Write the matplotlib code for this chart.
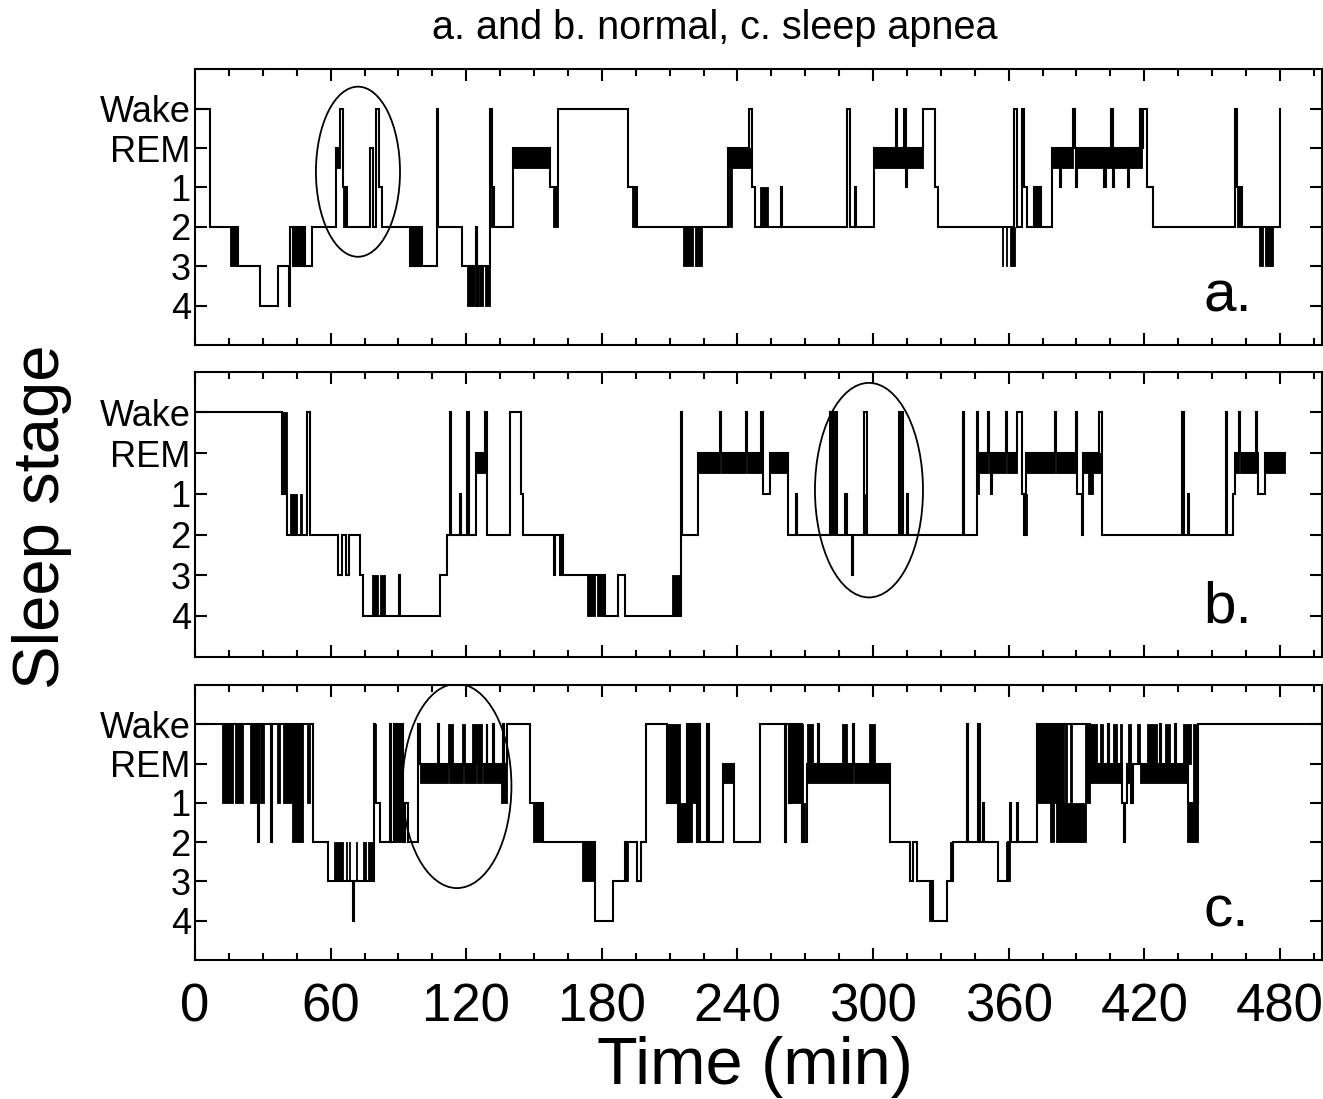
import matplotlib
matplotlib.use("Agg")
import matplotlib.pyplot as plt
from matplotlib.patches import Ellipse
from matplotlib.ticker import MultipleLocator

plt.rcParams['font.family'] = ['Liberation Sans', 'DejaVu Sans']

# stage codes -> plotting level ('r' = lower edge of the REM band)
level = {'W': 5, 'R': 4, 'r': 3.5, '1': 3, '2': 2, '3': 1, '4': 0}
stage_names = ['4', '3', '2', '1', 'REM', 'Wake']

# ---- a. normal ----
a_t = [0, 6.6, 19.2, 28.8, 36.9, 41.7, 42.2, 43.4, 44.0, 44.8, 45.3, 46.2, 46.8, 47.6, 48.2, 48.8, 51.6,
       62.2, 64.0, 65.3, 67.1, 77.4, 78.6, 80.1, 81.6, 82.6,
       95.1, 95.8, 96.4, 97.2, 97.8, 98.6, 99.2, 99.9, 100.6, 107.0, 107.7, 118.0, 124.2, 124.7, 125.3,
       130.5, 131.3, 132.3, 140.9, 157.1, 160.8, 191.7, 195.4, 236.0, 245.3, 246.5, 247.6, 259.4, 259.9,
       288.3, 289.6, 291.9, 292.5, 300.4, 310.2, 310.8, 313.8, 314.4, 315.0, 322.2, 327.4, 328.9,
       362.3, 363.6, 365.8, 367.0, 368.2, 371.1, 371.6, 372.6, 373.1, 374.0, 374.5, 379.0, 382.6, 383.2,
       388.6, 389.3, 389.8, 390.4, 402.4, 403.0, 405.4, 406.1, 406.6, 412.7, 413.3, 418.1, 419.0, 419.6, 421.4, 424.0,
       460.1, 460.9, 463.1, 480.0]
a_s = ['W', '2', '3', '4', '3', '4', '2', '3', '2', '3', '2', '3', '2', '3', '2', '3', '2',
       'R', 'W', '1', '2', 'R', '2', 'W', '1', '2',
       '3', '2', '3', '2', '3', '2', '3', '2', '3', 'W', '2', '3', '2', '4', '3',
       'W', '1', '2', 'R', '1', 'W', '1', '2', 'R', 'W', '1', '2', '1', '2',
       'W', '2', '1', '2', 'R', 'W', 'R', 'W', '1', 'R', 'W', '1', '2',
       'W', '2', 'W', '1', '2', '1', '2', '1', '2', '1', '2', 'R', '1', 'R',
       'W', 'R', '1', 'R', '1', 'R', 'W', '1', 'R', '1', 'R', 'W', 'R', 'W', '1', '2',
       'W', '1', '2', 'W']
a_rem = [(62.2, 64.0), (140.9, 157.1), (236.0, 246.3), (300.4, 322.2), (379.0, 388.6), (389.3, 418.8)]
a_dense = [(15.5, 19.2, '3', '2'), (65.3, 67.1, '2', '1'), (120.2, 123.9, '4', '3'), (125.5, 127.3, '4', '3'),
           (128.3, 130.5, '4', '3'), (131.0, 132.3, '2', '1'), (158.6, 160.8, '2', '1'), (193.2, 195.4, '2', '1'),
           (216.0, 220.4, '3', '2'), (221.2, 224.2, '3', '2'), (236.3, 237.8, '2', 'r'), (250.0, 253.7, '2', '1'),
           (357.0, 357.6, '3', '2'), (358.8, 359.4, '3', '2'), (360.4, 362.8, '3', '2'), (460.9, 463.1, '2', '1'),
           (470.9, 472.4, '3', '2'), (473.4, 477.1, '3', '2')]

# ---- b. normal ----
b_t = [0, 38.4, 40.9, 49.4, 50.9, 63.4, 64.9, 66.8, 68.3, 73.0, 74.5, 90.2, 90.7, 108.4, 111.4,
       112.8, 113.4, 117.1, 117.6, 120.4, 121.2, 124.2, 128.1, 129.1, 139.4, 144.3, 145.3,
       158.8, 159.4, 161.7, 162.3, 163.0, 181.4, 187.3, 190.2, 215.0, 215.6, 222.7,
       232.4, 232.9, 243.6, 244.1, 250.5, 251.2, 254.4, 262.5, 266.0, 266.5, 281.0, 283.9,
       287.8, 288.4, 290.8, 291.3, 296.0, 297.2, 311.6, 312.1, 312.8, 313.3, 315.0, 315.6, 339.6, 340.2,
       346.1, 346.6, 350.9, 351.4, 352.3, 352.8, 358.9, 359.4, 363.5, 365.7, 366.6, 367.7,
       380.3, 380.8, 389.6, 390.1, 392.5, 393.0, 400.1, 401.1, 436.5, 437.4, 439.3, 439.8, 456.1, 456.7,
       459.4, 460.1, 462.0, 462.5, 469.5, 470.0, 470.5, 473.4, 482.3]
b_s = ['W', '1', '2', 'W', '2', '3', '2', '3', '2', '3', '4', '3', '4', '3', '2',
       'W', '2', '1', '2', 'W', '2', 'R', 'W', '2', 'W', '1', '2',
       '3', '2', '3', '2', '3', '4', '3', '4', 'W', '2', 'R',
       'W', 'R', 'W', 'R', 'W', '1', 'R', '2', '1', '2', 'W', '2',
       '1', '2', '3', '2', 'W', '2', 'W', '2', 'W', '2', '1', '2', 'W', '2',
       'W', 'R', 'W', 'R', '1', 'R', 'W', 'R', 'W', '1', '2', 'R',
       'W', 'R', 'W', '1', '2', 'R', 'W', '2', 'W', '2', '1', '2', 'W', '2',
       '1', 'R', 'W', 'R', 'W', 'R', '1', 'R', 'R']
b_rem = [(124.2, 129.1), (222.7, 232.4), (232.9, 243.6), (244.1, 251.2), (254.4, 262.5),
         (346.6, 350.9), (351.4, 358.9), (359.4, 363.5), (367.7, 380.3), (380.8, 390.1),
         (393.0, 401.1), (460.1, 462.0), (462.5, 470.5), (473.4, 482.3)]
b_dense = [(38.4, 40.9, '1', 'W'), (42.0, 45.3, '2', '1'), (46.5, 47.3, '2', '1'), (78.2, 81.1, '4', '3'),
           (81.9, 84.1, '4', '3'), (173.3, 177.0, '4', '3'), (177.7, 181.4, '4', '3'), (210.9, 214.6, '4', '3'),
           (281.0, 283.9, '2', 'W'), (296.3, 297.5, '2', '1'), (346.1, 346.9, '1', 'R'), (366.5, 368.2, '2', '1'),
           (395.2, 397.5, '1', 'r')]

# ---- c. sleep apnea ----
c_t = [0, 27.8, 28.2, 33.7, 34.1, 52.4, 59.0, 69.9, 70.3, 79.2, 79.8, 81.8,
       86.3, 86.8, 88.2, 92.2, 93.0, 94.3, 98.8, 99.6, 107.5, 108.0, 129.0, 129.4, 131.9, 132.3, 136.3, 136.7,
       137.9, 148.2, 154.1, 177.0, 184.8, 190.2, 195.4, 197.2, 199.5, 209.0, 213.8, 217.5, 222.0, 222.7, 223.6,
       226.5, 227.4,
       233.7, 238.5, 250.0, 261.0, 261.6, 263.0, 263.6, 268.6, 270.6, 275.5, 276.0, 291.1, 291.6, 307.5,
       316.3, 317.8, 319.3, 326.7, 332.6, 335.5, 341.4, 342.1, 346.6, 347.3, 348.6, 349.1, 355.4, 359.8,
       360.7, 361.2, 363.6, 364.1, 372.7, 396.0, 404.0, 404.4, 410.3, 411.0, 411.6, 412.2, 414.2, 414.8,
       427.1, 427.5, 433.5, 433.9, 439.5, 443.9, 500]
c_s = ['W', '2', 'W', '2', 'W', '2', '3', '4', '3', 'W', '1', '2',
       'W', '2', 'W', '2', '1', '2', 'W', 'R', 'W', 'R', 'W', 'R', 'W', 'R', 'W', 'R',
       'W', '1', '2', '4', '3', '2', '3', '2', 'W', '1', '2', 'W', '2', 'W', '2',
       'W', '2',
       'R', '2', 'W', '2', 'W', '1', 'W', '2', 'R', 'W', 'R', 'W', 'R', '2',
       '3', '2', '3', '4', '3', '2', 'W', '2', 'W', '2', '1', '2', '3', '2',
       '1', '2', '1', '2', 'W', 'R', 'W', 'R', '1', '2', '1', 'R', '1', 'R',
       'W', 'R', 'W', 'R', '1', 'W', 'W']
c_rem = [(99.6, 112.0), (112.3, 118.4), (118.8, 124.4), (124.8, 127.1), (127.5, 137.9), (233.7, 238.5),
         (270.6, 287.0), (287.3, 291.1), (291.6, 307.5), (396.0, 410.0), (412.2, 414.2), (418.0, 439.5)]
c_dense = [(11.8, 17.0, '1', 'W'), (17.7, 21.1, '1', 'W'), (24.3, 27.3, '1', 'W'), (28.8, 30.5, '1', 'W'),
           (36.1, 37.6, '1', 'W'), (39.1, 48.0, '1', 'W'), (42.8, 48.0, '2', '1'), (49.4, 50.9, '1', 'W'),
           (61.5, 65.6, '3', '2'), (66.9, 67.3, '3', '2'), (68.1, 68.5, '3', '2'), (71.3, 71.7, '3', '2'),
           (74.5, 75.7, '3', '2'), (76.7, 79.2, '3', '2'), (79.2, 80.0, '1', 'W'),
           (88.2, 92.2, '2', 'W'), (112.1, 114.3, 'R', 'W'), (118.0, 119.5, 'R', 'W'), (122.4, 126.8, 'R', 'W'),
           (135.5, 137.9, '1', 'r'), (149.7, 154.1, '2', '1'),
           (171.1, 177.0, '3', '2'), (190.0, 191.6, '3', '2'), (209.0, 214.6, '1', 'W'), (213.8, 219.7, '2', '1'),
           (217.5, 222.0, '1', 'W'),
           (263.6, 269.1, '1', 'W'), (268.5, 270.0, '2', '1'), (270.6, 273.4, 'R', 'W'), (286.1, 288.3, 'R', 'W'),
           (298.3, 300.9, 'R', 'W'),
           (324.8, 326.5, '4', '3'), (334.0, 335.5, '3', '2'), (359.0, 360.5, '3', '2'),
           (372.7, 384.3, '1', 'W'), (385.0, 385.8, '1', 'W'), (387.3, 388.2, '1', 'W'), (393.7, 396.0, '1', 'W'),
           (378.4, 380.0, '2', '1'), (380.8, 394.2, '2', '1'),
           (396.0, 399.0, 'R', 'W'), (400.4, 401.9, 'R', 'W'), (406.3, 407.8, 'R', 'W'), (409.3, 410.3, 'R', 'W'),
           (412.9, 414.0, 'R', 'W'), (416.6, 418.1, 'R', 'W'), (421.0, 425.5, 'R', 'W'), (429.2, 431.4, 'R', 'W'),
           (437.3, 440.9, 'R', 'W'), (441.5, 443.9, '1', 'W'), (438.8, 443.9, '2', '1')]

# circled regions: (centre time, centre level, width in min, height in levels)
circles = [(72.1, 3.40, 37.2, 4.32), (298.2, 3.09, 47.8, 5.27), (115.9, 3.43, 48.2, 5.2)]
tags = ['a.', 'b.', 'c.']

fig = plt.figure(figsize=(13.23, 10.99), dpi=100)
boxes = [[0.1474, 0.6861, 0.8516, 0.2508],
         [0.1474, 0.4025, 0.8516, 0.2593],
         [0.1474, 0.1265, 0.8516, 0.2502]]
panels = [(a_t, a_s, a_rem, a_dense), (b_t, b_s, b_rem, b_dense), (c_t, c_s, c_rem, c_dense)]

for i, (t, s, rem, dense) in enumerate(panels):
    ax = fig.add_axes(boxes[i])
    y = [level[k] for k in s]
    ax.step(t, y, where='post', color='black', lw=1.5, solid_joinstyle='miter')
    # REM epochs drawn as a solid band
    for t0, t1 in rem:
        ax.fill_between([t0, t1], level['r'], level['R'], color='black', lw=0.6)
    # stretches of fast switching between two stages
    for t0, t1, lo, hi in dense:
        ax.fill_between([t0, t1], level[lo], level[hi], color='black', lw=0.6)

    cx, cy, w, h = circles[i]
    ax.add_patch(Ellipse((cx, cy), w, h, fill=False, color='black', lw=1.3))
    ax.text(0.895, 0.12, tags[i], transform=ax.transAxes, fontsize=42, ha='left', va='baseline')

    ax.set_xlim(0, 498.5)
    ax.set_ylim(-1, 6)
    ax.set_yticks(range(6))
    ax.set_yticklabels(stage_names, fontsize=26)
    ax.xaxis.set_major_locator(MultipleLocator(60))
    ax.xaxis.set_minor_locator(MultipleLocator(15))
    ax.tick_params(which='both', direction='in', top=True, right=True, width=1.5)
    ax.tick_params(which='major', length=8.6)
    ax.tick_params(which='minor', length=5)
    ax.tick_params(axis='y', pad=3)
    ax.tick_params(axis='x', pad=16, labelsize=38)
    if i < 2:
        ax.tick_params(axis='x', labelbottom=False)
    for sp in ax.spines.values():
        sp.set_linewidth(1.5)

fig.text(0.5405, 0.9745, 'a. and b. normal, c. sleep apnea', fontsize=28.5, ha='center', va='center')
fig.text(0.032, 0.5296, 'Sleep stage', fontsize=47, rotation=90, ha='center', va='center')
fig.text(0.5707, 0.029, 'Time (min)', fontsize=48, ha='center', va='center')

fig.savefig('out.png', dpi=100)
